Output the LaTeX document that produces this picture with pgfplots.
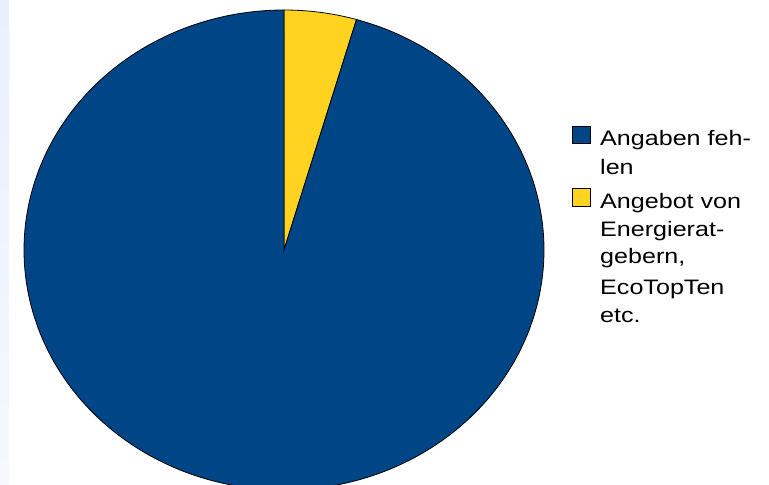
\documentclass[border=0pt]{standalone}
\usepackage{pgfplots}
\pgfplotsset{compat=1.18}
\usepackage{pgfplotstable}
\usepackage{fontspec}
\setmainfont{Liberation Sans}[FakeStretch=1.2]
\definecolor{pieblue}{HTML}{004586}
\definecolor{pieyellow}{HTML}{FFD320}
\definecolor{striptop}{HTML}{E9EFFD}
\definecolor{stripbot}{HTML}{F6F8FE}
% shares in percent, clockwise from 12 o'clock
\pgfplotstableread{
share
4.5
95.5
}\piedata
\pgfplotstablegetelem{0}{share}\of\piedata \let\shareA\pgfplotsretval
\pgfplotstablegetelem{1}{share}\of\piedata \let\shareB\pgfplotsretval
\pgfmathsetmacro\angA{90-3.6*\shareA}
\pgfmathsetmacro\angB{\angA-3.6*\shareB}
\begin{document}
\begin{tikzpicture}
\begin{axis}[name=ax, scale only axis, width=769bp, height=485bp,
  xmin=0, xmax=769, ymin=0, ymax=485, hide axis, clip=true]
\addplot[draw=none, top color=striptop, bottom color=stripbot] coordinates {(0,0) (9,0) (9,485) (0,485)} -- cycle;
\addplot[fill=pieyellow, draw=black, line width=0.8bp, domain=90:\angA, samples=20, variable=\t]
  ({284+260*cos(\t)},{235+240*sin(\t)}) -- (axis cs:284,235) -- cycle;
\addplot[fill=pieblue, draw=black, line width=0.8bp, domain=\angA:\angB, samples=240, variable=\t]
  ({284+260*cos(\t)},{235+240*sin(\t)}) -- (axis cs:284,235) -- cycle;
% legend
\addplot[fill=pieblue, draw=black, line width=0.6bp] coordinates {(572,342) (590,342) (590,359) (572,359)} -- cycle;
\addplot[fill=pieyellow, draw=black, line width=0.6bp] coordinates {(572,279) (590,279) (590,297) (572,297)} -- cycle;
\begin{scope}[every node/.style={anchor=base west, inner sep=0pt, font=\fontsize{21}{24}\selectfont}]
\node at (axis cs:600,339) {Angaben feh-};
\node at (axis cs:600,310) {len};
\node at (axis cs:600,276) {Angebot von};
\node at (axis cs:600,248) {Energierat-};
\node at (axis cs:600,221) {gebern,};
\node at (axis cs:600,190) {EcoTopTen};
\node at (axis cs:600,162) {etc.};
\end{scope}
\end{axis}
\pgfresetboundingbox
\path[use as bounding box] (ax.south west) rectangle (ax.north east);
\end{tikzpicture}
\end{document}
